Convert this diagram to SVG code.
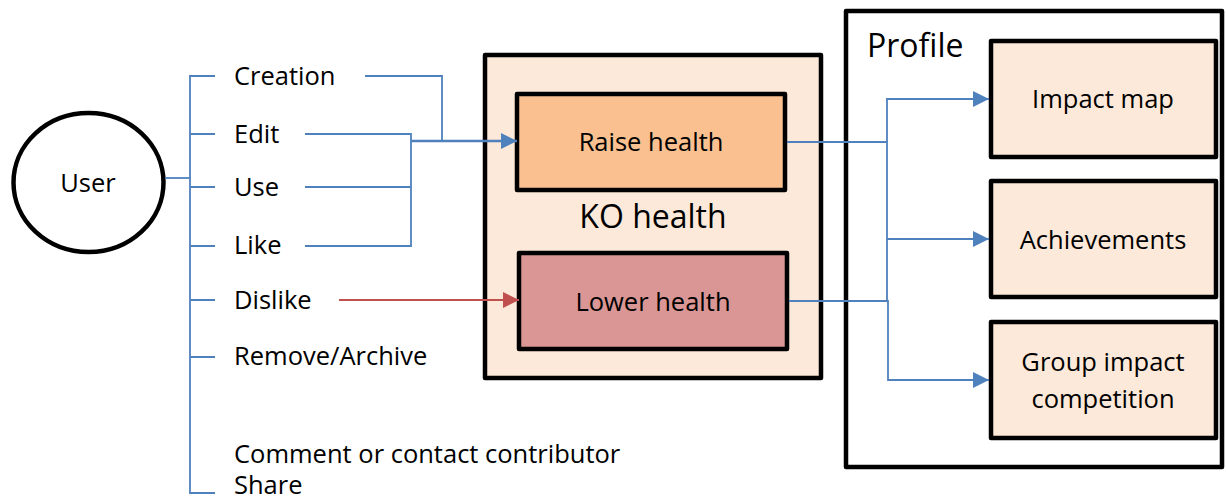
<svg xmlns="http://www.w3.org/2000/svg" width="1226" height="501" viewBox="0 0 1226 501">
  <style>
    text { font-family: "Open Sans", "Noto Sans", sans-serif; fill: #000; }
    .lbl { font-size: 25.5px; }
    .big { font-size: 32px; }
    .mid { text-anchor: middle; }
    .box { stroke: #000; stroke-width: 4.5; stroke-linejoin: round; }
    .peach { fill: #FDE9D9; }
    .blue { fill: none; stroke: #4F81BD; stroke-width: 1.8; }
    .blue-thick { fill: none; stroke: #4F81BD; stroke-width: 2.6; }
    .red { fill: none; stroke: #C0504D; stroke-width: 1.8; }
  </style>
  <defs>
    <marker id="arrow-blue" markerUnits="userSpaceOnUse" markerWidth="16" markerHeight="16" refX="16" refY="8" orient="auto">
      <path d="M0,0 L16,8 L0,16 Z" fill="#4F81BD"/>
    </marker>
    <marker id="arrow-red" markerUnits="userSpaceOnUse" markerWidth="16" markerHeight="16" refX="16" refY="8" orient="auto">
      <path d="M0,0 L16,8 L0,16 Z" fill="#C0504D"/>
    </marker>
  </defs>

  <rect width="1226" height="501" fill="#fff"/>

  <!-- User -->
  <g id="user">
    <ellipse cx="88.5" cy="182.5" rx="75" ry="69.5" fill="#fff" stroke="#000" stroke-width="4.5"/>
    <text class="lbl mid" x="88" y="192">User</text>
  </g>

  <!-- Action labels -->
  <g id="actions">
    <text class="lbl" id="act-creation" x="234" y="85">Creation</text>
    <text class="lbl" id="act-edit" x="234" y="143">Edit</text>
    <text class="lbl" id="act-use" x="234" y="196">Use</text>
    <text class="lbl" id="act-like" x="234" y="254">Like</text>
    <text class="lbl" id="act-dislike" x="234" y="309">Dislike</text>
    <text class="lbl" id="act-remove" x="234" y="365">Remove/Archive</text>
    <text class="lbl" id="act-comment" x="234" y="463">Comment or contact contributor</text>
    <text class="lbl" id="act-share" x="234" y="494">Share</text>
  </g>

  <!-- KO health container -->
  <g id="ko-health">
    <rect class="box peach" x="485" y="55" width="336" height="323"/>
    <text class="big mid" x="653" y="228">KO health</text>
  </g>

  <g id="raise-health">
    <rect class="box" x="517" y="94" width="268" height="96" fill="#FAC090"/>
    <text class="lbl mid" x="651" y="151">Raise health</text>
  </g>

  <g id="lower-health">
    <rect class="box" x="519" y="253" width="268" height="96" fill="#D99694"/>
    <text class="lbl mid" x="653" y="311">Lower health</text>
  </g>

  <!-- Profile container -->
  <g id="profile">
    <rect class="box" x="846" y="11" width="376" height="456" fill="#fff"/>
    <text class="big" x="867" y="57">Profile</text>
  </g>

  <g id="impact-map">
    <rect class="box peach" x="991" y="41" width="225" height="116"/>
    <text class="lbl mid" x="1103" y="108">Impact map</text>
  </g>

  <g id="achievements">
    <rect class="box peach" x="991" y="181" width="225" height="116"/>
    <text class="lbl mid" x="1103" y="249">Achievements</text>
  </g>

  <g id="group-impact">
    <rect class="box peach" x="991" y="322" width="225" height="116"/>
    <text class="lbl mid" x="1103" y="371">Group impact</text>
    <text class="lbl mid" x="1103" y="408">competition</text>
  </g>

  <!-- Connectors -->
  <g id="connectors">
    <!-- user to action trunk -->
    <path class="blue" d="M165,178 H190"/>
    <path class="blue" d="M215,76 H190 V493 H215"/>
    <path class="blue" d="M190,134 H215 M190,187 H215 M190,246 H215 M190,300 H215 M190,357 H215"/>

    <!-- positive actions merge into Raise health -->
    <path class="blue" d="M365,76 H442 V141"/>
    <path class="blue" d="M305,134 H411 V246 H305 M305,187 H411"/>
    <path class="blue-thick" d="M411,141 H517" marker-end="url(#arrow-blue)"/>

    <!-- dislike to Lower health -->
    <path class="red" d="M339,300 H519" marker-end="url(#arrow-red)"/>

    <!-- health changes feed the profile -->
    <path class="blue" d="M787,142 H887 M789,301 H888"/>
    <path class="blue" d="M887,142 V99 H989" marker-end="url(#arrow-blue)"/>
    <path class="blue" d="M887,142 V239 H989" marker-end="url(#arrow-blue)"/>
    <path class="blue" d="M887,239 V301 H888 V380 H989" marker-end="url(#arrow-blue)"/>
  </g>
</svg>
